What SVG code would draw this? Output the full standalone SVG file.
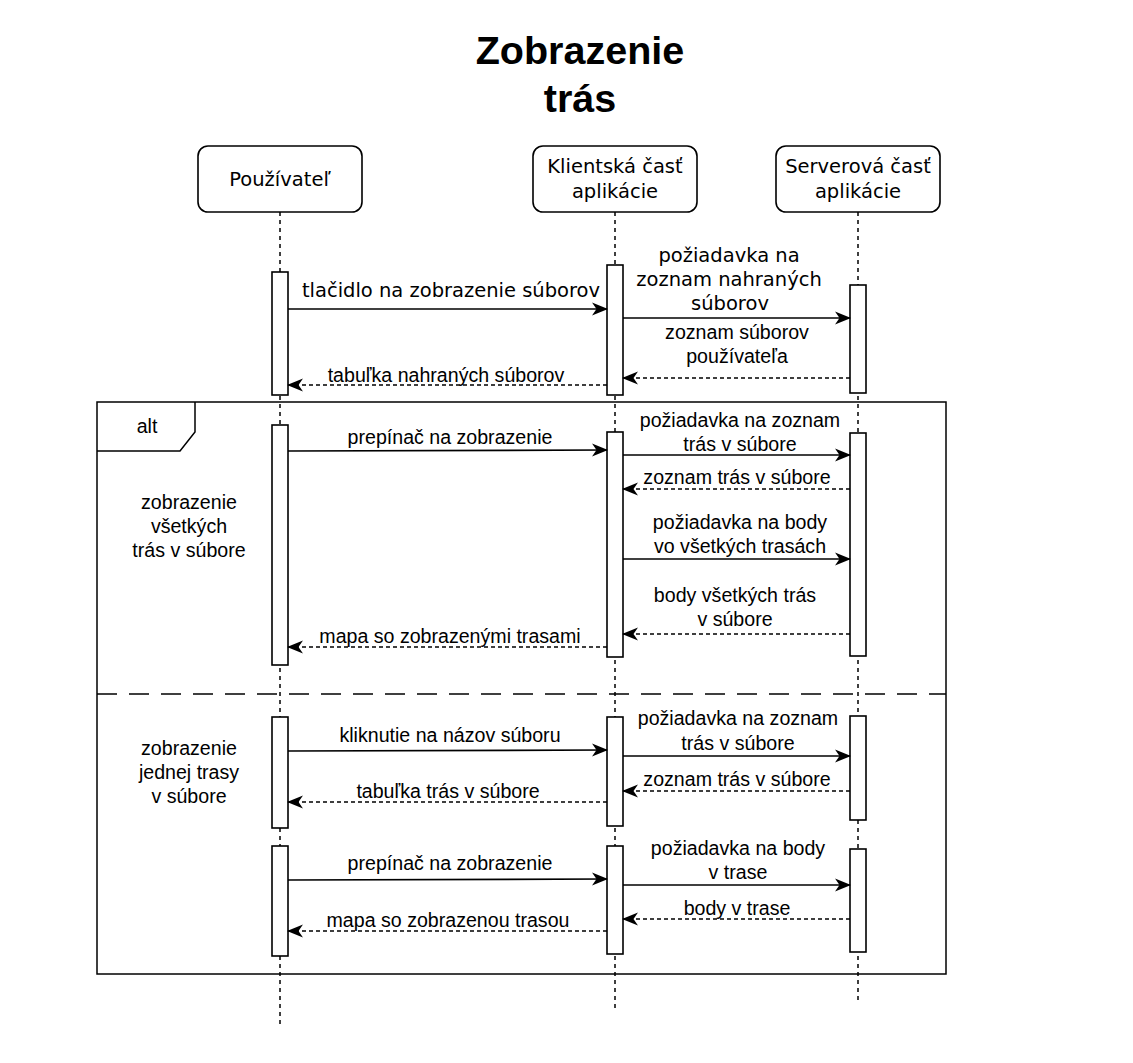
<svg xmlns="http://www.w3.org/2000/svg" width="1133" height="1063" viewBox="0 0 1133 1063">
<style>
.t{font-family:"Liberation Sans",Arial,sans-serif;font-size:19.6px;fill:#000;text-anchor:middle}
.d{font-family:"DejaVu Sans",Verdana,sans-serif;font-size:19.5px;fill:#000;text-anchor:middle}
.title{font-family:"Liberation Sans",Arial,sans-serif;font-size:39.5px;font-weight:bold;text-anchor:middle}
.box{fill:#fff;stroke:#000;stroke-width:1.6}
.act{fill:#fff;stroke:#000;stroke-width:1.6}
.life{stroke:#000;stroke-width:1.5;stroke-dasharray:4 4;fill:none}
.msg{stroke:#000;stroke-width:1.7;fill:none;marker-end:url(#ah)}
.ret{stroke:#000;stroke-width:1.4;fill:none;stroke-dasharray:4 3;marker-end:url(#ah)}
</style>
<defs>
<marker id="ah" markerWidth="16" markerHeight="14" viewBox="0 0 16 14" refX="15" refY="7" orient="auto" markerUnits="userSpaceOnUse">
<path d="M0,0.5 L16,7 L0,13.5 L4.5,7 z" fill="#000"/>
</marker>
</defs>
<rect width="1133" height="1063" fill="#fff"/>
<text class="title" x="580" y="64">Zobrazenie</text>
<text class="title" x="580" y="112">trás</text>

<g id="lifelines">
<line class="life" x1="280" y1="212" x2="280" y2="1025"/>
<line class="life" x1="615" y1="212" x2="615" y2="1010"/>
<line class="life" x1="858" y1="212" x2="858" y2="1000"/>
</g>

<g id="user">
<rect class="box" x="198" y="146" width="164" height="66" rx="10"/>
<text class="d" x="280" y="186">Používateľ</text>
</g>
<g id="client">
<rect class="box" x="533" y="146" width="164" height="66" rx="10"/>
<text class="d" x="615" y="173">Klientská časť</text>
<text class="d" x="615" y="198">aplikácie</text>
</g>
<g id="server">
<rect class="box" x="776" y="146" width="164" height="66" rx="10"/>
<text class="d" x="858" y="173">Serverová časť</text>
<text class="d" x="858" y="198">aplikácie</text>
</g>

<g id="alt-frame">
<rect x="97" y="402" width="849" height="572" fill="none" stroke="#000" stroke-width="1.5"/>
<path d="M97,451 L180,451 L195,432 L195,402" fill="none" stroke="#000" stroke-width="1.5"/>
<text class="t" x="147" y="433">alt</text>
<line x1="97" y1="694" x2="946" y2="694" stroke="#000" stroke-width="1.5" stroke-dasharray="20 12"/>
<text class="t" x="189" y="509">zobrazenie</text>
<text class="t" x="189" y="533">všetkých</text>
<text class="t" x="189" y="557">trás v súbore</text>
<text class="t" x="189" y="755">zobrazenie</text>
<text class="t" x="189" y="779">jednej trasy</text>
<text class="t" x="189" y="803">v súbore</text>
</g>

<g id="activations">
<rect class="act" x="272" y="272" width="16" height="123"/>
<rect class="act" x="607" y="265" width="16" height="130"/>
<rect class="act" x="850" y="285" width="16" height="108"/>
<rect class="act" x="272" y="425" width="16" height="240"/>
<rect class="act" x="607" y="432" width="16" height="225"/>
<rect class="act" x="850" y="433" width="16" height="223"/>
<rect class="act" x="272" y="717" width="16" height="111"/>
<rect class="act" x="607" y="717" width="16" height="109"/>
<rect class="act" x="850" y="716" width="16" height="104"/>
<rect class="act" x="272" y="846" width="16" height="110"/>
<rect class="act" x="607" y="846" width="16" height="108"/>
<rect class="act" x="850" y="849" width="16" height="103"/>
</g>

<g id="connectors">
<path class="msg" d="M288,309 L607,309"/>
<path class="msg" d="M623,318 L850,318"/>
<path class="ret" d="M850,378 L623,378"/>
<path class="ret" d="M607,385 L288,385"/>

<path class="msg" d="M288,451 L607,450"/>
<path class="msg" d="M623,455 L850,455"/>
<path class="ret" d="M850,489 L623,489"/>
<path class="msg" d="M623,559 L850,559"/>
<path class="ret" d="M850,634 L623,634"/>
<path class="ret" d="M607,647 L288,647"/>

<path class="msg" d="M288,751 L607,750"/>
<path class="msg" d="M623,756 L850,756"/>
<path class="ret" d="M850,791 L623,791"/>
<path class="ret" d="M607,802 L288,802"/>

<path class="msg" d="M288,880 L607,879"/>
<path class="msg" d="M623,885 L850,885"/>
<path class="ret" d="M850,919 L623,919"/>
<path class="ret" d="M607,931 L288,931"/>
</g>

<g id="labels">
<text class="d" x="451" y="297">tlačidlo na zobrazenie súborov</text>
<text class="d" x="729" y="262">požiadavka na</text>
<text class="d" x="729" y="286">zoznam nahraných</text>
<text class="d" x="730" y="310">súborov</text>
<text class="t" x="737" y="339">zoznam súborov</text>
<text class="t" x="737" y="363">používateľa</text>
<text class="t" x="446" y="382">tabuľka nahraných súborov</text>

<text class="t" x="450" y="444">prepínač na zobrazenie</text>
<text class="t" x="740" y="427">požiadavka na zoznam</text>
<text class="t" x="740" y="451">trás v súbore</text>
<text class="t" x="737" y="484">zoznam trás v súbore</text>
<text class="t" x="740" y="529">požiadavka na body</text>
<text class="t" x="740" y="553">vo všetkých trasách</text>
<text class="t" x="735" y="602">body všetkých trás</text>
<text class="t" x="735" y="626">v súbore</text>
<text class="t" x="450" y="643">mapa so zobrazenými trasami</text>

<text class="t" x="450" y="742">kliknutie na názov súboru</text>
<text class="t" x="738" y="725">požiadavka na zoznam</text>
<text class="t" x="738" y="750">trás v súbore</text>
<text class="t" x="737" y="786">zoznam trás v súbore</text>
<text class="t" x="448" y="798">tabuľka trás v súbore</text>

<text class="t" x="450" y="870">prepínač na zobrazenie</text>
<text class="t" x="738" y="855">požiadavka na body</text>
<text class="t" x="738" y="879">v trase</text>
<text class="t" x="737" y="915">body v trase</text>
<text class="t" x="448" y="927">mapa so zobrazenou trasou</text>
</g>
</svg>
